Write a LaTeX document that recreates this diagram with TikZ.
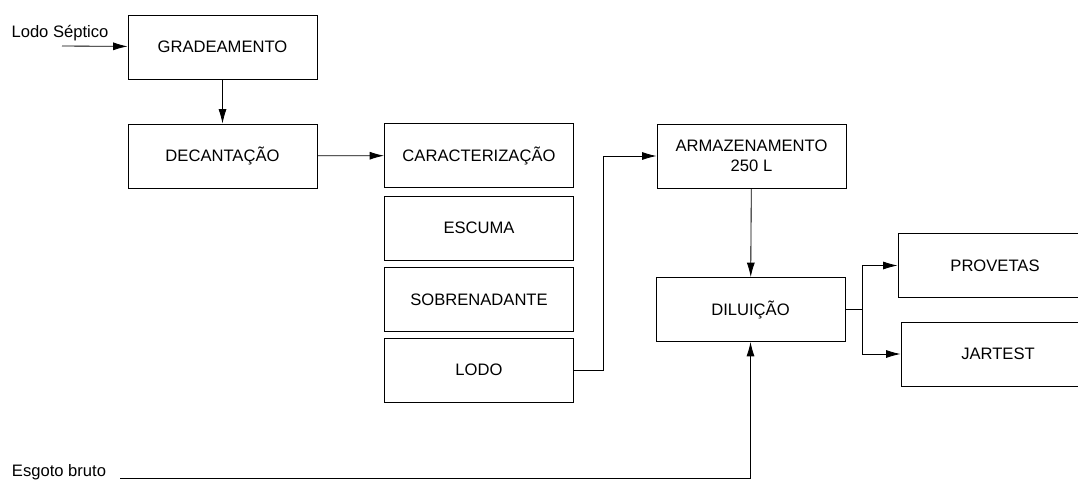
\documentclass[tikz,border=0pt]{standalone}
\usepackage{fontspec}
\setmainfont{Liberation Sans}
\usetikzlibrary{shapes,arrows.meta}
\tikzset{
	etapa/.style    = {draw, rectangle, minimum height = 1.6cm,
		minimum width = 4.725cm, align = center},
	rotulo/.style   = {inner sep = 0pt}
}

\begin{document}
\begin{tikzpicture}[line width=0.6pt, x=0.025cm, y=-0.025cm, >={Latex[length=3.6mm,width=2mm]},
	font=\fontsize{11.8}{14}\selectfont]
	
	\useasboundingbox (0,0) rectangle (1078,480);
	
	\draw
	node at (222.5,47) [etapa] (grad) {GRADEAMENTO}
	node at (222.5,156) [etapa] (dec) {DECANTA\c{C}\~AO}
	node at (479,155.5) [etapa] (car) {CARACTERIZA\c{C}\~AO}
	node at (479,228) [etapa] (esc) {ESCUMA}
	node at (479,299.5) [etapa] (sob) {SOBRENADANTE}
	node at (479,370) [etapa] (lodo) {LODO}
	node at (751.5,156) [etapa] (arm) {ARMAZENAMENTO\\250 L}
	node at (750.5,309.5) [etapa] (dil) {DILUI\c{C}\~AO}
	node at (995,265.5) [etapa, minimum width = 4.85cm] (prov) {PROVETAS}
	node at (998,354) [etapa, minimum width = 4.85cm] (jar) {JARTEST};
	
	\node[rotulo] at (60,33) (ls) {Lodo S\'eptico};
	\node[rotulo] at (59,472) (eb) {Esgoto bruto};
	\coordinate (lsin) at (62,46);
	\coordinate (ebin) at (120,478);
	
	\draw[->](lsin) -- (grad);
	\draw[->](grad) -- (dec);
	\draw[->](dec) -- (car);
	\draw[->](lodo.east) -- ++(29,0) |- (arm.west);
	\draw[->](arm) -- (dil);
	\draw(dil.east) -- ++(17,0) coordinate (ram);
	\draw[->](ram) |- (prov.west);
	\draw[->](ram) |- (jar.west);
	\draw[->](ebin) -| (dil.south);
	
\end{tikzpicture}
\end{document}
